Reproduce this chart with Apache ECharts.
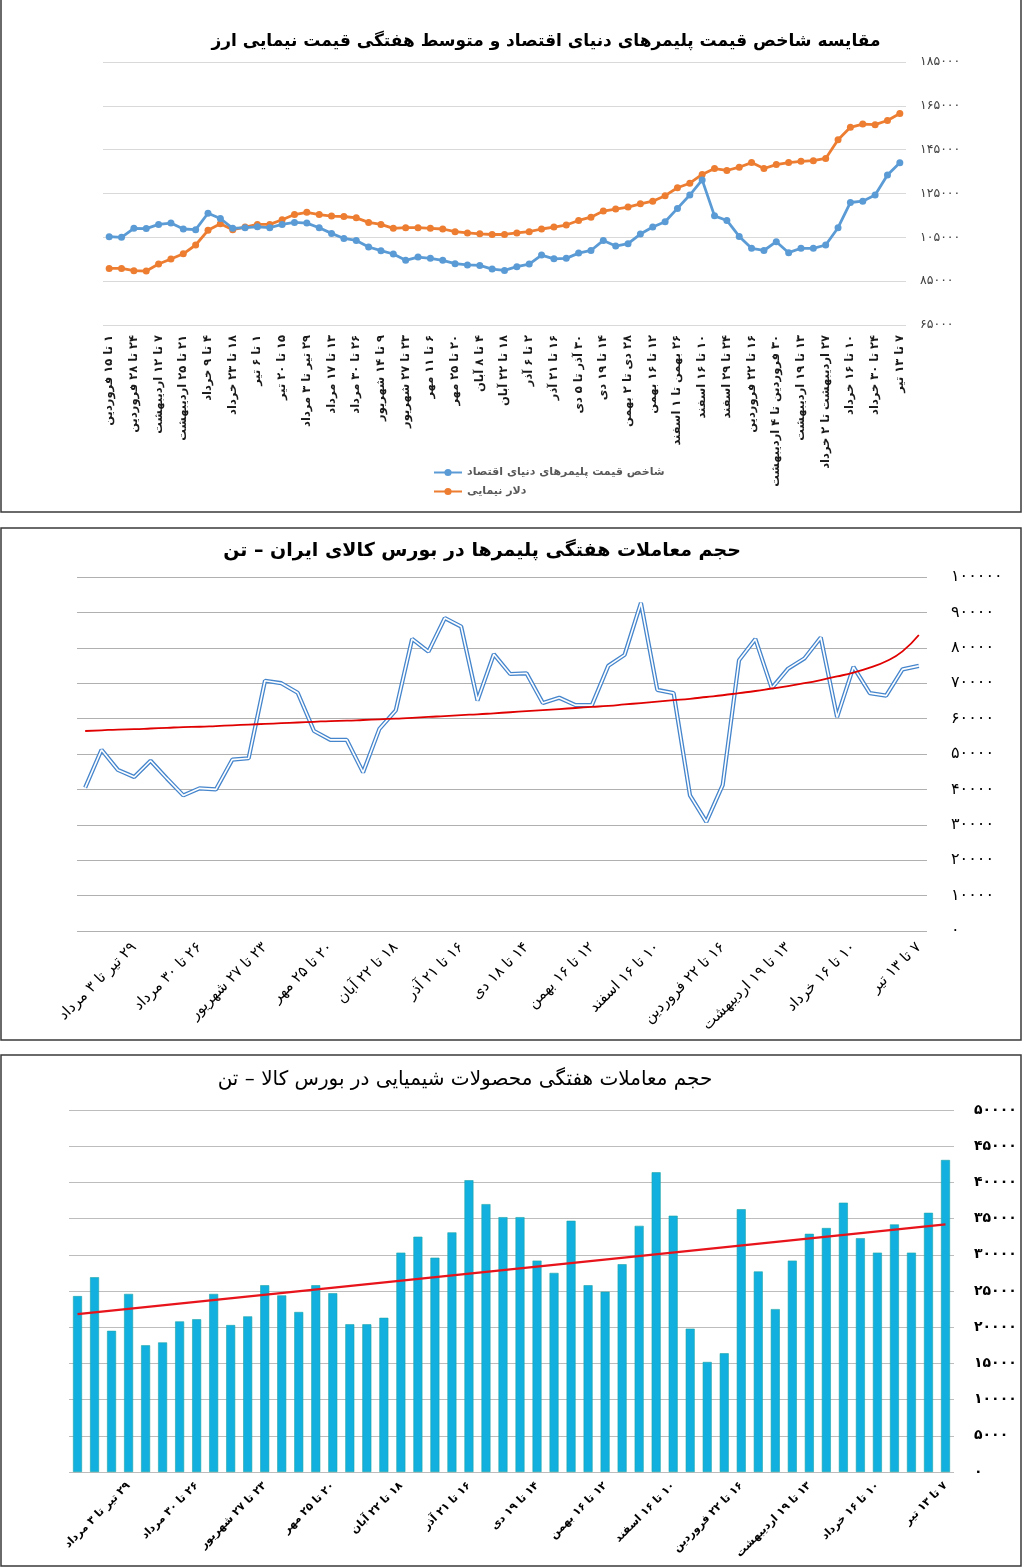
<!DOCTYPE html>
<html>
<head>
<meta charset="utf-8">
<script src="https://cdn.jsdelivr.net/npm/echarts@6/dist/echarts.min.js"></script>
<style>
html,body{margin:0;padding:0;background:#fff;}
#c{width:1024px;height:1568px;}
</style>
</head>
<body>
<div id="c"></div>
<script>
// ---------- DATA ----------
const priceWeeks = [
  '۱ تا ۱۵ فروردین','۱۷ تا ۲۱ فروردین','۲۴ تا ۲۸ فروردین','۳۱ فروردین تا ۴ اردیبهشت',
  '۷ تا ۱۲ اردیبهشت','۱۴ تا ۱۸ اردیبهشت','۲۱ تا ۲۵ اردیبهشت','۲۸ اردیبهشت تا ۱ خرداد',
  '۴ تا ۹ خرداد','۱۱ تا ۱۶ خرداد','۱۸ تا ۲۳ خرداد','۲۵ تا ۳۰ خرداد',
  '۱ تا ۶ تیر','۸ تا ۱۳ تیر','۱۵ تا ۲۰ تیر','۲۲ تا ۲۷ تیر',
  '۲۹ تیر تا ۳ مرداد','۶ تا ۱۰ مرداد','۱۳ تا ۱۷ مرداد','۱۹ تا ۲۴ مرداد',
  '۲۶ تا ۳۰ مرداد','۲ تا ۷ شهریور','۹ تا ۱۴ شهریور','۱۶ تا ۲۱ شهریور',
  '۲۳ تا ۲۷ شهریور','۳۰ شهریور تا ۴ مهر','۶ تا ۱۱ مهر','۱۳ تا ۱۸ مهر',
  '۲۰ تا ۲۵ مهر','۲۷ مهر تا ۱ آبان','۴ تا ۸ آبان','۱۱ تا ۱۵ آبان',
  '۱۸ تا ۲۲ آبان','۲۵ تا ۲۹ آبان','۲ تا ۶ آذر','۹ تا ۱۴ آذر',
  '۱۶ تا ۲۱ آذر','۲۳ تا ۲۸ آذر','۳۰ آذر تا ۵ دی','۷ تا ۱۲ دی',
  '۱۴ تا ۱۹ دی','۲۱ تا ۲۶ دی','۲۸ دی تا ۲ بهمن','۵ تا ۹ بهمن',
  '۱۲ تا ۱۶ بهمن','۱۹ تا ۲۳ بهمن','۲۶ بهمن تا ۱ اسفند','۳ تا ۸ اسفند',
  '۱۰ تا ۱۶ اسفند','۱۷ تا ۲۲ اسفند','۲۴ تا ۲۹ اسفند','۱ تا ۱۵ فروردین ',
  '۱۶ تا ۲۲ فروردین','۲۳ تا ۲۹ فروردین','۳۰ فروردین تا ۴ اردیبهشت','۶ تا ۱۱ اردیبهشت',
  '۱۳ تا ۱۹ اردیبهشت','۲۰ تا ۲۶ اردیبهشت','۲۷ اردیبهشت تا ۲ خرداد','۳ تا ۹ خرداد',
  '۱۰ تا ۱۶ خرداد','۱۷ تا ۲۳ خرداد','۲۴ تا ۳۰ خرداد','۳۱ خرداد تا ۶ تیر',
  '۷ تا ۱۳ تیر'
];
const polymerIndex = [
  105300,105000,109100,109000,110900,111500,108800,108500,116000,113600,
  109100,109400,109800,109400,110900,111800,111500,109400,106800,104500,
  103600,100600,98900,97400,94500,96000,95400,94500,93000,92400,
  92200,90500,89900,91600,92800,96900,95200,95400,97800,99000,
  103600,101000,102100,106500,109700,112100,118200,124300,131200,114800,
  112700,105400,100000,99000,103000,98000,100000,100000,101500,109400,
  120900,121500,124300,133400,139000
];
const nimaDollar = [
  90800,90800,89800,89600,92800,95100,97500,101500,108200,111200,
  108500,109700,110900,110900,113000,115400,116400,115400,114700,114500,
  113900,111800,110900,109100,109400,109400,109100,108800,107600,107000,
  106600,106300,106300,107000,107600,108800,109700,110600,112700,114200,
  117000,117900,118800,120300,121500,124000,127600,129700,133700,136400,
  135500,137000,139100,136400,138200,139100,139700,140000,141000,149500,
  155200,156700,156400,158300,161500
];
const volumeWeeks = priceWeeks.slice(13);
const polymerWeeks = volumeWeeks.map(w => w === '۱۴ تا ۱۹ دی' ? '۱۴ تا ۱۸ دی' : w);
const polymerVolume = [
  40500,51200,45500,43500,48100,43100,38300,40300,40000,48400,
  48800,70700,70000,67300,56500,54000,54000,44800,57100,62300,
  82500,78900,88400,86000,65100,78200,72600,72800,64400,65900,
  63800,63800,74900,78000,92700,68100,67200,38300,30800,41200,
  76500,82500,68600,74100,77000,82900,60400,74600,67200,66500,
  73900,74900
];
const polymerTrend = [
  56500,56700,56900,57000,57200,57400,57600,57700,57900,58100,
  58300,58500,58700,58900,59100,59300,59400,59600,59800,60000,
  60200,60500,60700,61000,61200,61500,61800,62100,62400,62700,
  63000,63300,63600,64000,64400,64800,65200,65600,66100,66600,
  67200,67800,68500,69200,70000,70900,71900,73000,74400,76200,
  79000,83600
];
const chemVolume = [
  24300,26900,19500,24600,17500,17900,20800,21100,24600,20300,
  21500,25800,24400,22100,25800,24700,20400,20400,21300,30300,
  32500,29600,33100,40300,37000,35200,35200,29200,27500,34700,
  25800,24900,28700,34000,41400,35400,19800,15200,16400,36300,
  27700,22500,29200,32900,33700,37200,32300,30300,34200,30300,
  35800,43100
];
const chemTrendEnds = [21800, 34200];
const title1 = 'مقایسه شاخص قیمت پلیمرهای دنیای اقتصاد و متوسط هفتگی قیمت نیمایی ارز';
const title2 = 'حجم معاملات هفتگی پلیمرها در بورس کالای ایران – تن';
const title3 = 'حجم معاملات هفتگی محصولات شیمیایی در بورس کالا – تن';
const seriesNames = ['شاخص قیمت پلیمرهای دنیای اقتصاد', 'دلار نیمایی'];

// ---------- HELPERS ----------
const FONT = 'DejaVu Sans';
const fa = v => String(v).replace(/\d/g, d => '۰۱۲۳۴۵۶۷۸۹'[d]);
const RLM = '\u200F';
const catFmt = v => RLM + v.trim();
const every4 = idx => idx % 4 === 3;
const chemTrend = chemVolume.map((_, i) => i === 0 ? chemTrendEnds[0] : (i === chemVolume.length - 1 ? chemTrendEnds[1] : null));

function titleText(text, x, y, size, weight) {
  return {
    type: 'text', x: x, y: y, silent: true,
    style: {
      text: RLM + text, fill: '#000',
      font: weight + ' ' + size + 'px "' + FONT + '"',
      align: 'center', textAlign: 'center',
      verticalAlign: 'middle', textVerticalAlign: 'middle'
    }
  };
}
function frame(x, y, w, h) {
  return { type: 'rect', silent: true, shape: { x: x, y: y, width: w, height: h },
    style: { fill: 'none', stroke: '#3a3a3a', lineWidth: 1.5 } };
}

const chart = echarts.init(document.getElementById('c'), null, { renderer: 'canvas' });
const option = {
  animation: false,
  backgroundColor: '#fff',
  textStyle: { fontFamily: FONT },
  graphic: [
    frame(1, -3, 1020, 515),
    frame(1, 528, 1020, 512),
    frame(1, 1055, 1020, 511),
    titleText(title1, 546, 42, 17, 'bold'),
    titleText(title2, 482, 551, 19, 'bold'),
    titleText(title3, 465, 1080, 20, 'normal')
  ],
  legend: {
    data: seriesNames,
    orient: 'vertical', left: 428, top: 462,
    itemWidth: 28, itemHeight: 9, itemGap: 8,
    textStyle: { fontSize: 11, fontWeight: 'bold', color: '#595959', fontFamily: FONT }
  },
  grid: [
    { left: 103, top: 62, width: 803, height: 263 },
    { left: 77, top: 577, width: 850, height: 354 },
    { left: 69, top: 1110, width: 885, height: 362 }
  ],
  xAxis: [
    { gridIndex: 0, type: 'category', data: priceWeeks, boundaryGap: true,
      axisLine: { show: false }, axisTick: { show: false },
      axisLabel: { interval: 1, rotate: 90, margin: 10, fontSize: 11.5, fontWeight: 'bold', color: '#1a1a1a', fontFamily: FONT, formatter: catFmt } },
    { gridIndex: 1, type: 'category', data: polymerWeeks, boundaryGap: true,
      axisLine: { show: false }, axisTick: { show: false },
      axisLabel: { interval: every4, rotate: 45, margin: 14, fontSize: 15, color: '#000', fontFamily: FONT, formatter: catFmt } },
    { gridIndex: 2, type: 'category', data: volumeWeeks, boundaryGap: true,
      axisLine: { show: false }, axisTick: { show: false },
      axisLabel: { interval: every4, rotate: 45, margin: 12, fontSize: 11, fontWeight: 'bold', color: '#000', fontFamily: FONT, formatter: catFmt } }
  ],
  yAxis: [
    { gridIndex: 0, type: 'value', position: 'right', min: 65000, max: 185000, interval: 20000,
      axisLine: { show: false }, axisTick: { show: false },
      splitLine: { lineStyle: { color: '#d9d9d9', width: 1.2 } },
      axisLabel: { margin: 14, fontSize: 12.5, color: '#404040', fontFamily: FONT, formatter: fa } },
    { gridIndex: 1, type: 'value', position: 'right', min: 0, max: 100000, interval: 10000,
      axisLine: { show: false }, axisTick: { show: false },
      splitLine: { lineStyle: { color: '#b0b0b0', width: 1.2 } },
      axisLabel: { margin: 24, fontSize: 16, color: '#000', fontFamily: FONT, formatter: fa } },
    { gridIndex: 2, type: 'value', position: 'right', min: 0, max: 50000, interval: 5000,
      axisLine: { show: false }, axisTick: { show: false },
      splitLine: { lineStyle: { color: '#bdbdbd', width: 1.2 } },
      axisLabel: { margin: 20, fontSize: 14, fontWeight: 'bold', color: '#000', fontFamily: FONT, formatter: fa } }
  ],
  series: [
    { name: seriesNames[0], type: 'line', xAxisIndex: 0, yAxisIndex: 0, data: polymerIndex,
      color: '#5b9bd5', symbol: 'circle', symbolSize: 7, lineStyle: { width: 2.8 }, z: 3 },
    { name: seriesNames[1], type: 'line', xAxisIndex: 0, yAxisIndex: 0, data: nimaDollar,
      color: '#ed7d31', symbol: 'circle', symbolSize: 7, lineStyle: { width: 2.8 }, z: 2 },
    { type: 'line', xAxisIndex: 1, yAxisIndex: 1, data: polymerVolume, symbol: 'none',
      lineStyle: { color: '#4585cc', width: 4.2 }, z: 2 },
    { type: 'line', xAxisIndex: 1, yAxisIndex: 1, data: polymerVolume, symbol: 'none', silent: true,
      lineStyle: { color: '#ffffff', width: 1.6 }, z: 3 },
    { type: 'line', xAxisIndex: 1, yAxisIndex: 1, data: polymerTrend, symbol: 'none', smooth: true,
      lineStyle: { color: '#e00000', width: 1.8 }, z: 4 },
    { type: 'bar', xAxisIndex: 2, yAxisIndex: 2, data: chemVolume, barWidth: 9,
      itemStyle: { color: '#12b0de', borderColor: '#1fa6a8', borderWidth: 0.6 }, z: 2 },
    { type: 'line', xAxisIndex: 2, yAxisIndex: 2, data: chemTrend, connectNulls: true, symbol: 'none',
      lineStyle: { color: '#e8141b', width: 2.4 }, z: 4 }
  ]
};
chart.setOption(option);
</script>
</body>
</html>
